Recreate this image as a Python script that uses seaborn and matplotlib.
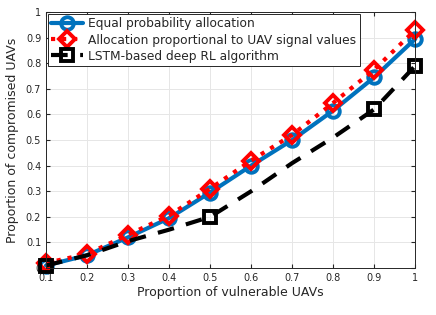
import matplotlib
matplotlib.use("Agg")
import matplotlib.pyplot as plt
import pandas as pd
import seaborn as sns

x_vals = [0.1, 0.2, 0.3, 0.4, 0.5, 0.6, 0.7, 0.8, 0.9, 1.0]
equal_prob = [0.01, 0.05, 0.12, 0.195, 0.295, 0.40, 0.50, 0.615, 0.745, 0.895]
proportional = [0.02, 0.055, 0.13, 0.205, 0.31, 0.42, 0.52, 0.645, 0.775, 0.93]
lstm_rl = [0.01, 0.05, 0.105, 0.15, 0.20, 0.30, 0.41, 0.51, 0.62, 0.79]

series_names = [
    "Equal probability allocation",
    "Allocation proportional to UAV signal values",
    "LSTM-based deep RL algorithm",
]

df = pd.DataFrame({
    "x": x_vals * 3,
    "y": equal_prob + proportional + lstm_rl,
    "method": [series_names[0]] * 10 + [series_names[1]] * 10 + [series_names[2]] * 10,
})

sns.set_style("whitegrid")
plt.rcParams["font.family"] = ["DejaVu Sans"]

fig = plt.figure(figsize=(4.36, 3.15), dpi=100)
ax = fig.add_axes([0.1055, 0.149, 0.847, 0.813])

styles = {
    series_names[0]: dict(color="#0072BD", linestyle="-", marker="o", markevery=None, ms=9),
    series_names[1]: dict(color="#FF0000", linestyle=":", marker="D", markevery=None, ms=8),
    series_names[2]: dict(color="black", linestyle=(0, (4, 3)), marker="s",
                          markevery=[0, 4, 8, 9], ms=9),
}

for name in series_names:
    sub = df[df["method"] == name]
    st = styles[name]
    sns.lineplot(data=sub, x="x", y="y", ax=ax, color=st["color"], linestyle=st["linestyle"],
                 marker=st["marker"], markevery=st["markevery"], markersize=st["ms"],
                 markerfacecolor="none", markeredgecolor=st["color"], markeredgewidth=2.8,
                 linewidth=3, label=name, clip_on=False)

ax.set_xlim(0.1, 1.0)
ax.set_ylim(0, 1)
ax.set_xticks(x_vals)
ax.set_xticklabels(["0.1", "0.2", "0.3", "0.4", "0.5", "0.6", "0.7", "0.8", "0.9", "1"])
ax.set_yticks([0, 0.1, 0.2, 0.3, 0.4, 0.5, 0.6, 0.7, 0.8, 0.9, 1.0])
ax.set_yticklabels(["0", "0.1", "0.2", "0.3", "0.4", "0.5", "0.6", "0.7", "0.8", "0.9", "1"])
ax.tick_params(axis="both", labelsize=7, colors="#262626", direction="in", length=3,
               top=True, right=True, bottom=True, left=True)
ax.grid(True, color="#e6e6e6", linewidth=0.7)
for sp in ax.spines.values():
    sp.set_color("#262626")
    sp.set_linewidth(0.7)

ax.set_xlabel("Proportion of vulnerable UAVs", fontsize=9, color="#262626", labelpad=2)
ax.set_ylabel("Proportion of compromised UAVs", fontsize=9, color="#262626", labelpad=5)

leg = ax.legend(loc="upper left", fontsize=8.8, frameon=True, fancybox=False,
                borderaxespad=0.15, handlelength=2.6, borderpad=0.3, labelspacing=0.25,
                handletextpad=0.4)
leg.get_frame().set_edgecolor("#262626")
leg.get_frame().set_linewidth(0.7)
leg.get_frame().set_alpha(1)

fig.savefig("out.png", dpi=100)
